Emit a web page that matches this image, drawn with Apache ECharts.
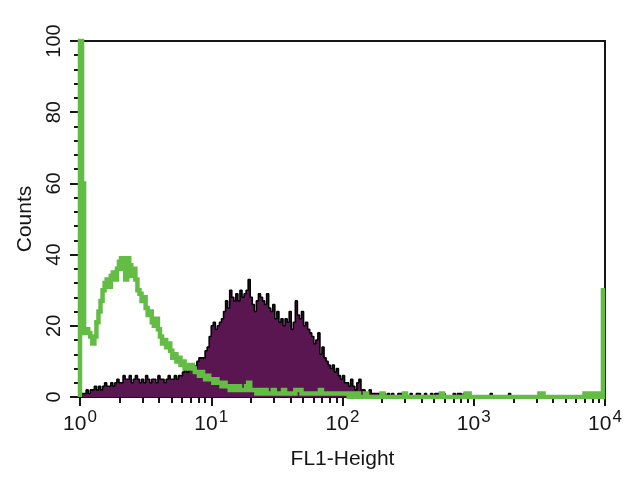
<!DOCTYPE html>
<html>
<head>
<meta charset="utf-8">
<title>FL1-Height histogram</title>
<script src="https://cdn.jsdelivr.net/npm/echarts@6/dist/echarts.min.js"></script>
<style>
  html, body { margin: 0; padding: 0; background: #fff; }
  #chart { width: 631px; height: 480px; }
</style>
</head>
<body>
<div id="chart"></div>
<script>
// 256 channels over 4 log decades (64 channels per decade)
var channelsPerDecade = 64;

// control (green) histogram counts per channel
var controlCounts = [
  120, 60, 18, 19, 18, 17, 15, 17, 21, 24, 27, 30, 32, 33, 31, 34,
  35, 33, 36, 38, 39, 36, 33, 39, 37, 34, 36, 33, 30, 29, 27, 28,
  25, 23, 24, 21, 20, 22, 19, 17, 15, 16, 14, 15, 13, 11, 12, 10,
  11, 9, 10, 8, 9, 8, 9, 8, 7, 7, 6, 7, 6, 5, 6, 5,
  5, 4, 5, 4, 4, 3, 4, 3, 3, 2, 3, 3, 2, 3, 2, 2,
  2, 3, 4, 2, 2, 2, 1, 2, 1, 1, 2, 1, 1, 1, 2, 1,
  1, 1, 1, 2, 1, 1, 1, 1, 1, 2, 2, 2, 1, 1, 1, 1,
  1, 1, 1, 1, 1, 2, 1, 1, 1, 1, 1, 1, 1, 1, 1, 1,
  1, 1, 1, 0, 1, 0, 0, 1, 0, 0, 0, 1, 0, 0, 0, 0,
  0, 0, 0, 1, 0, 0, 0, 0, 0, 0, 0, 0, 0, 0, 1, 0,
  0, 0, 0, 0, 0, 0, 0, 0, 0, 0, 0, 0, 0, 0, 0, 0,
  1, 0, 0, 0, 0, 0, 0, 0, 0, 0, 0, 0, 1, 1, 0, 0,
  0, 0, 0, 0, 0, 0, 0, 0, 0, 0, 0, 0, 0, 0, 0, 0,
  0, 0, 0, 0, 0, 0, 0, 0, 0, 0, 0, 0, 0, 0, 0, 0,
  1, 1, 0, 0, 0, 0, 0, 0, 0, 0, 0, 0, 0, 0, 0, 0,
  0, 0, 0, 0, 0, 0, 1, 0, 1, 1, 0, 1, 1, 0, 0, 30
];

// stained sample (purple) histogram counts per channel
var sampleCounts = [
  0, 1, 1, 2, 1, 2, 2, 3, 2, 3, 2, 3, 4, 3, 3, 4,
  3, 4, 5, 4, 4, 6, 5, 5, 6, 4, 5, 6, 5, 4, 5, 4,
  6, 5, 4, 5, 5, 4, 6, 5, 5, 4, 5, 6, 5, 5, 6, 5,
  6, 6, 7, 8, 7, 9, 8, 9, 8, 10, 11, 11, 11, 13, 14, 17,
  20, 21, 19, 20, 21, 22, 24, 27, 25, 30, 28, 27, 29, 27, 30, 28,
  29, 30, 33, 28, 26, 24, 27, 29, 28, 27, 26, 29, 25, 24, 26, 22,
  24, 21, 22, 20, 22, 21, 24, 19, 21, 27, 23, 22, 24, 20, 21, 19,
  18, 17, 15, 16, 18, 12, 14, 11, 10, 9, 8, 9, 7, 8, 6, 5,
  6, 4, 4, 3, 5, 3, 2, 4, 5, 2, 2, 1, 1, 2, 1, 1,
  1, 1, 0, 1, 1, 0, 1, 0, 1, 0, 0, 1, 1, 0, 1, 0,
  0, 1, 0, 0, 1, 1, 0, 0, 1, 0, 0, 1, 0, 1, 1, 0,
  0, 1, 0, 0, 0, 0, 1, 0, 1, 1, 0, 1, 0, 0, 0, 0,
  0, 0, 0, 0, 0, 0, 0, 0, 1, 0, 0, 0, 0, 0, 0, 0,
  0, 1, 0, 0, 0, 0, 0, 0, 0, 0, 0, 0, 0, 0, 0, 0,
  0, 0, 0, 0, 0, 0, 0, 0, 0, 0, 0, 0, 0, 0, 0, 0,
  0, 0, 0, 0, 0, 0, 0, 0, 0, 0, 0, 0, 0, 0, 0, 0
];

// axis ticks
var decadeTicks = [1, 10, 100, 1000, 10000];
var minorTicks = [
  2, 3, 4, 5, 6, 7, 8, 9,
  20, 30, 40, 50, 60, 70, 80, 90,
  200, 300, 400, 500, 600, 700, 800, 900,
  2000, 3000, 4000, 5000, 6000, 7000, 8000, 9000
];
var countTicks = [0, 20, 40, 60, 80, 100];

var font = 'Liberation Sans, Arial, sans-serif';
var ink = '#161616';

// channel -> FL1 value, each point is the left edge of its bin
function histPoints(counts) {
  var pts = [[1, 0]];
  for (var i = 0; i < counts.length; i++) {
    pts.push([Math.pow(10, i / channelsPerDecade), counts[i]]);
  }
  pts.push([decadeTicks[decadeTicks.length - 1], counts[counts.length - 1]]);
  return pts;
}

var chart = echarts.init(document.getElementById('chart'));
var option = {
  backgroundColor: '#fff',
  animation: false,
  grid: {
    left: 80, right: 26, top: 41, bottom: 83,
    show: true,
    borderColor: ink,
    borderWidth: 2,
    backgroundColor: 'transparent'
  },
  xAxis: [
    {
      type: 'log',
      logBase: 10,
      min: 1,
      max: 10000,
      position: 'bottom',
      name: 'FL1-Height',
      nameLocation: 'middle',
      nameGap: 52,
      nameTextStyle: { fontFamily: font, fontSize: 21, color: ink },
      axisLine: { lineStyle: { color: ink, width: 2 } },
      axisTick: {
        length: 9,
        lineStyle: { color: ink, width: 2 },
        customValues: decadeTicks
      },
      axisLabel: {
        margin: 12,
        customValues: decadeTicks,
        formatter: function (v) {
          return '{b|10}{s|' + Math.round(Math.log10(v)) + '}';
        },
        rich: {
          b: { fontFamily: font, fontSize: 21, color: ink },
          s: { fontFamily: font, fontSize: 17, color: ink, padding: [0, 0, 13, 1] }
        }
      },
      splitLine: { show: false }
    },
    {
      type: 'log',
      logBase: 10,
      min: 1,
      max: 10000,
      position: 'bottom',
      axisLine: { show: false },
      axisTick: {
        length: 6,
        lineStyle: { color: ink, width: 2 },
        customValues: minorTicks
      },
      axisLabel: { show: false },
      splitLine: { show: false }
    }
  ],
  yAxis: {
    type: 'value',
    min: 0,
    max: 100,
    interval: 20,
    name: 'Counts',
    nameLocation: 'middle',
    nameGap: 40,
    nameRotate: 90,
    nameTextStyle: { fontFamily: font, fontSize: 21, color: ink },
    axisLine: { show: true, lineStyle: { color: ink, width: 2 } },
    axisTick: { show: true, length: 10, lineStyle: { color: ink, width: 2 } },
    minorTick: { show: true, splitNumber: 5, length: 6, lineStyle: { color: ink, width: 2 } },
    axisLabel: {
      rotate: 90,
      margin: 16,
      fontFamily: font,
      fontSize: 20,
      color: ink,
      customValues: countTicks
    },
    splitLine: { show: false }
  },
  series: [
    {
      name: 'Sample',
      type: 'line',
      step: 'end',
      showSymbol: false,
      data: histPoints(sampleCounts),
      lineStyle: { color: '#000', width: 1.6 },
      areaStyle: { color: '#5a1650', opacity: 1 },
      z: 2
    },
    {
      name: 'Control',
      type: 'line',
      step: 'end',
      showSymbol: false,
      data: histPoints(controlCounts),
      lineStyle: { color: '#63bd45', width: 4.5, join: 'miter' },
      z: 3
    }
  ]
};
chart.setOption(option);
</script>
</body>
</html>
